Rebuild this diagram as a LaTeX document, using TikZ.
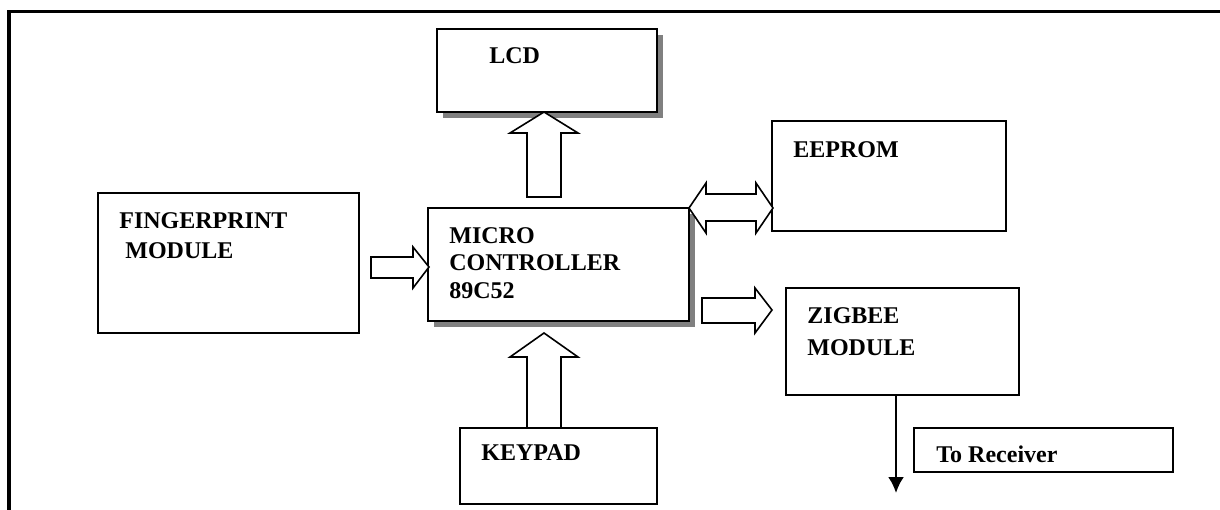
\documentclass[tikz,border=0pt]{standalone}
\usepackage{fontspec}
\setmainfont{Liberation Serif}
\usetikzlibrary{shadows,arrows.meta}
\begin{document}
\begin{tikzpicture}[x=0.5pt,y=-0.5pt,
  box/.style={draw=black,line width=1pt,fill=white,anchor=north west,inner sep=0pt,outer sep=0pt},
  shd/.style={drop shadow={shadow xshift=3pt,shadow yshift=-3.2pt,fill=black!50,opacity=1}},
  blk/.style={draw=black,line width=0.8pt,fill=white,line join=miter},
  lbl/.style={anchor=base west,inner sep=0pt,font=\fontsize{12}{14}\selectfont\bfseries},
  frame/.style={line width=1.75pt}]
\useasboundingbox (0,0) rectangle (1220,509);
% outer frame (only top and left visible)
\draw[frame] (8.8,520) -- (8.8,11.7) -- (1230,11.7);
% boxes
\node[box,shd,minimum width=110pt,minimum height=41.5pt] (lcd) at (437,29) {};
\node[box,minimum width=130.5pt,minimum height=70pt] (fp) at (98,193) {};
\node[box,shd,minimum width=130.5pt,minimum height=56.5pt] (mcu) at (428,208) {};
\node[box,minimum width=117pt,minimum height=55pt] (ee) at (772,121) {};
\node[box,minimum width=116.5pt,minimum height=53.5pt] (zb) at (786,288) {};
\node[box,minimum width=98.5pt,minimum height=38pt] (kp) at (460,428) {};
\node[box,minimum width=129.5pt,minimum height=22pt] (rxbox) at (914,428) {};
% labels
\node[lbl] (tlcd) at (489,63) {LCD};
\node[lbl] (tfp1) at (119,228) {FINGERPRINT};
\node[lbl] (tfp2) at (125,258) {MODULE};
\node[lbl] (tee) at (793,157) {EEPROM};
\node[lbl] (tmc1) at (449,243) {MICRO};
\node[lbl] (tmc2) at (449,270) {CONTROLLER};
\node[lbl] (tmc3) at (449,298) {89C52};
\node[lbl] (tzb1) at (807,323) {ZIGBEE};
\node[lbl] (tzb2) at (807,355) {MODULE};
\node[lbl] (tkp) at (481,460) {KEYPAD};
\node[lbl] (trx) at (936,462) {To Receiver};
% block arrows
% MCU -> LCD
\draw[blk] (527,197) -- (527,133) -- (510,133) -- (544,112) -- (578,133) -- (561,133) -- (561,197) -- cycle;
% KEYPAD -> MCU
\draw[blk] (527,428) -- (527,357) -- (510,357) -- (544,333) -- (578,357) -- (561,357) -- (561,428) -- cycle;
% FINGERPRINT -> MCU
\draw[blk] (371,257) -- (413,257) -- (413,247) -- (429,267) -- (413,288) -- (413,278) -- (371,278) -- cycle;
% MCU <-> EEPROM
\draw[blk] (689,208) -- (706,183) -- (706,194) -- (756,194) -- (756,183) -- (773,208) -- (756,233) -- (756,221) -- (706,221) -- (706,233) -- cycle;
% MCU -> ZIGBEE
\draw[blk] (702,298) -- (755,298) -- (755,288) -- (772,310) -- (755,333) -- (755,323) -- (702,323) -- cycle;
% ZIGBEE -> receiver
\coordinate (zbot) at (zb.south west -| 896,0);
\coordinate (rx) at (896,493);
\draw[line width=1.2pt,-{Latex[length=8pt,width=8pt]}] (zbot) -- (rx);
\end{tikzpicture}
\end{document}
